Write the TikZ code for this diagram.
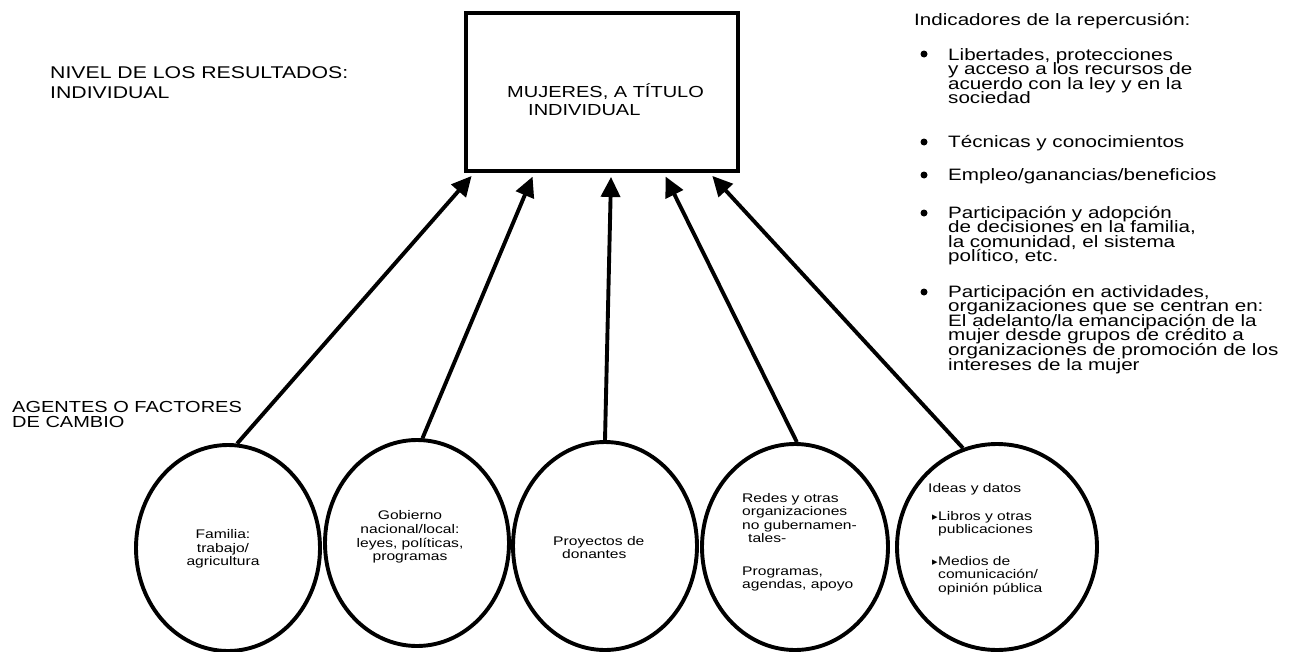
\documentclass[tikz,border=0pt]{standalone}
\usepackage{fontspec}
\setmainfont{Liberation Sans}[FakeStretch=1.25]
\newfontfamily\symfont{DejaVu Sans}
\usetikzlibrary{arrows.meta,shapes.geometric,calc}

% stacked lines: first baseline is the box baseline, fixed line pitch
\newcommand\cstack[1]{\vtop{\lineskiplimit=-30pt\relax
  \halign{\relax\hfil##\hfil\cr#1\crcr}}}
\newcommand\lstack[1]{\vtop{\lineskiplimit=-30pt\relax
  \halign{\relax##\hfil\cr#1\crcr}}}
\newcommand\tri{\llap{{\symfont\fontsize{11}{11}\selectfont ▸}\hskip0.5pt\relax}}

\begin{document}
\begin{tikzpicture}[x=1pt,y=-1pt,
  heavy/.style={line width=3.9pt},
  upper/.style={inner sep=0pt, anchor=base west,
    font=\fontsize{16}{18}\selectfont},
  ind/.style={inner sep=0pt, anchor=base west,
    font=\fontsize{16.5}{14.6}\selectfont},
  small/.style={inner sep=0pt, anchor=base west,
    font=\fontsize{12.5}{13.6}\selectfont},
  oval/.style={draw, heavy, ellipse, inner sep=0pt},
  bul/.style={circle, fill, inner sep=0pt, minimum size=7pt},
  arr/.style={heavy, -{Triangle[length=20pt,width=19pt]}, shorten >=4pt}
]
\useasboundingbox (0,0) rectangle (1296,651);

% left-hand headings
\node[upper, font=\fontsize{17}{20}\selectfont] (nivel) at (50,78)
  {\lstack{NIVEL DE LOS RESULTADOS:\cr INDIVIDUAL}};
\node[upper, font=\fontsize{16}{15.5}\selectfont] (agentes) at (12,412)
  {\lstack{AGENTES O FACTORES\cr DE CAMBIO}};

% result box
\node[draw, heavy, minimum width=272pt, minimum height=158pt, inner sep=0pt]
  (box) at (602,92) {};
\node[upper] (mujeres) at (507,97)
  {\lstack{MUJERES, A TÍTULO\cr\hskip21pt\relax INDIVIDUAL}};

% agents of change
\node[oval, minimum width=184pt, minimum height=206pt] (e1) at (228,548) {};
\node[oval, minimum width=184pt, minimum height=206pt] (e2) at (417,543) {};
\node[oval, minimum width=184pt, minimum height=208pt] (e3) at (605,546) {};
\node[oval, minimum width=186pt, minimum height=206pt] (e4) at (795,547) {};
\node[oval, minimum width=200pt, minimum height=206pt] (e5) at (997,547) {};

\node[small, anchor=center] (t1) at (223,549)
  {\cstack{Familia:\cr trabajo/\cr agricultura}};
\node[small, anchor=center] (t2) at (410,537)
  {\cstack{Gobierno\cr nacional/local:\cr leyes, políticas,\cr programas}};
\node[small] (t3) at (553,545)
  {\lstack{Proyectos de\cr\hskip9pt\relax donantes}};
\node[small] (t4a) at (742,502)
  {\lstack{Redes y otras\cr organizaciones\cr no gubernamen-\cr\hskip6pt\relax tales-}};
\node[small] (t4b) at (742,575)
  {\lstack{Programas,\cr agendas, apoyo}};
\node[small] (t5a) at (928,492) {Ideas y datos};
\node[small] (t5b) at (938,520)
  {\lstack{\tri Libros y otras\cr publicaciones}};
\node[small] (t5c) at (938,565)
  {\lstack{\tri Medios de\cr comunicación/\cr opinión pública}};

% influences on the result
\draw[arr] (e1.85) -- ($(box.south west)!0.037!(box.south east)$);
\draw[arr] (e2.87) -- ($(box.south west)!0.254!(box.south east)$);
\draw[arr] (e3.90) -- ($(box.south west)!0.533!(box.south east)$);
\draw[arr] (e4.89) -- ($(box.south west)!0.724!(box.south east)$);
\draw[arr] (e5.109) -- ($(box.south west)!0.89!(box.south east)$);

% impact indicators
\node[ind] (ih) at (914,25) {Indicadores de la repercusión:};
\node[bul] (b1) at (924,54) {};
\node[ind] (i1) at (948,60)
  {\lstack{Libertades, protecciones\cr y acceso a los recursos de\cr
   acuerdo con la ley y en la\cr sociedad}};
\node[bul] (b2) at (924,142) {};
\node[ind] (i2) at (948,147) {Técnicas y conocimientos};
\node[bul] (b3) at (924,175) {};
\node[ind] (i3) at (948,180) {Empleo/ganancias/beneficios};
\node[bul] (b4) at (924,213) {};
\node[ind] (i4) at (948,218)
  {\lstack{Participación y adopción\cr de decisiones en la familia,\cr
   la comunidad, el sistema\cr político, etc.}};
\node[bul] (b5) at (924,292) {};
\node[ind] (i5) at (948,297)
  {\lstack{Participación en actividades,\cr organizaciones que se centran en:\cr
   El adelanto/la emancipación de la\cr mujer desde grupos de crédito a\cr
   organizaciones de promoción de los\cr intereses de la mujer}};
\end{tikzpicture}
\end{document}
